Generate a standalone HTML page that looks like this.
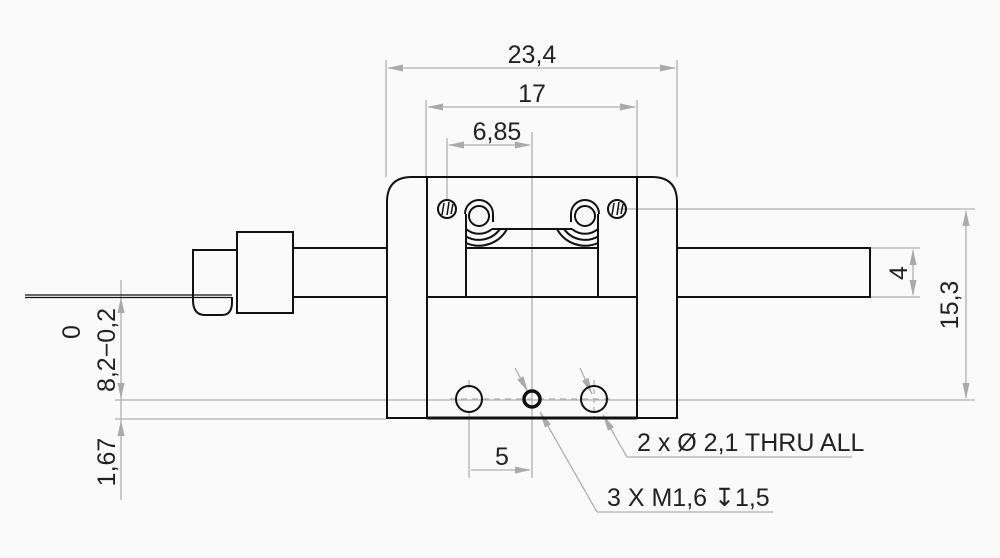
<!DOCTYPE html>
<html><head><meta charset="utf-8"><style>
html,body{margin:0;padding:0;background:#fafafa;}
svg{display:block}
text{font-family:"Liberation Sans",sans-serif;fill:#222;}
</style></head><body>
<svg width="1000" height="558" viewBox="0 0 1000 558" xmlns="http://www.w3.org/2000/svg">
<rect width="1000" height="558" fill="#fafafa"/>
<!-- gray dimension lines -->
<g stroke="#b0b0b0" stroke-width="1.3" fill="none">
<line x1="386" y1="60" x2="386" y2="177"/><line x1="677" y1="60" x2="677" y2="177"/>
<line x1="426" y1="100" x2="426" y2="177"/><line x1="637" y1="100" x2="637" y2="177"/>
<line x1="447" y1="138" x2="447" y2="200"/><line x1="532" y1="132" x2="532" y2="478"/>
<line x1="388" y1="68" x2="675" y2="68"/>
<line x1="428" y1="107" x2="635" y2="107"/>
<line x1="449" y1="145" x2="530" y2="145"/>
<line x1="617" y1="209" x2="975" y2="209"/>
<line x1="115" y1="400" x2="975" y2="400"/>
<line x1="115" y1="419" x2="386" y2="419"/>
<line x1="870" y1="248" x2="920" y2="248"/><line x1="870" y1="297" x2="920" y2="297"/>
<line x1="913" y1="250" x2="913" y2="295"/>
<line x1="966" y1="211" x2="966" y2="398"/>
<line x1="121" y1="280" x2="121" y2="500"/>
<line x1="469" y1="412" x2="469" y2="478"/>
<line x1="471" y1="470" x2="530" y2="470"/>
<line x1="594" y1="380" x2="594" y2="418" stroke-dasharray="5,4"/>
<line x1="469" y1="380" x2="469" y2="388"/>
<line x1="450" y1="399" x2="610" y2="399" stroke-dasharray="6,5"/>
<line x1="580" y1="368" x2="592" y2="394"/>
<line x1="627" y1="457" x2="603" y2="415"/>
<line x1="627" y1="457" x2="852" y2="457"/>
<line x1="515" y1="368" x2="528" y2="392"/>
<line x1="597" y1="512" x2="540" y2="412"/>
<line x1="597" y1="512" x2="773" y2="512"/>
</g>
<g fill="#aaa">
<polygon points="387,68 403,64.5 403,71.5"/><polygon points="676,68 660,64.5 660,71.5"/>
<polygon points="427,107 443,103.5 443,110.5"/><polygon points="636,107 620,103.5 620,110.5"/>
<polygon points="448,145 464,141.5 464,148.5"/><polygon points="531,145 515,141.5 515,148.5"/>
<polygon points="531,470 515,466.5 515,473.5"/>
<polygon points="913,249 909.5,265 916.5,265"/><polygon points="913,296 909.5,280 916.5,280"/>
<polygon points="966,210 962.5,226 969.5,226"/><polygon points="966,399 962.5,383 969.5,383"/>
<polygon points="121,297 117.5,313 124.5,313"/><polygon points="121,399 117.5,383 124.5,383"/>
<polygon points="121,420 117.5,436 124.5,436"/>
<polygon points="592,394 588.5,377.9 582.1,380.9"/>
<polygon points="603,415 614,427.2 608,430.7"/>
<polygon points="528,392 523.5,376.2 517.3,379.6"/>
<polygon points="540,412 551,424.2 544.9,427.6"/>
</g>
<!-- black geometry -->
<g stroke="#111" stroke-width="2" fill="none">
<path d="M387,418 L387,202 Q387,177 412,177 L652,177 Q677,177 677,202 L677,418 Z"/>
<line x1="427" y1="177" x2="427" y2="418"/><line x1="637" y1="177" x2="637" y2="418"/>
<line x1="427" y1="418" x2="637" y2="418" stroke-width="3"/>
<line x1="427" y1="297" x2="637" y2="297"/>
<line x1="466" y1="214" x2="466" y2="297"/><line x1="598" y1="214" x2="598" y2="297"/>
<line x1="466" y1="248" x2="598" y2="248"/>
<line x1="492" y1="229" x2="572" y2="229"/>
<path d="M465,214 A14,14 0 0 1 493,214 L493,222"/>
<circle cx="479" cy="216" r="10"/>
<path d="M492,229 A20,20 0 0 1 466,229 M500,229 A26,26 0 0 1 466,236.5 M507,229 A32,32 0 0 1 466,243"/>
<path d="M571,222 L571,214 A14,14 0 0 1 599,214"/>
<circle cx="585" cy="216" r="10"/>
<path d="M598,229 A20,20 0 0 1 572,229 M598,236.5 A26,26 0 0 1 564,229 M598,243 A32,32 0 0 1 557,229"/>
<circle cx="447" cy="209" r="9"/><path d="M444,203 L442,215 M449,202 L447,215 M453,204 L451,214" stroke-width="1.5"/>
<circle cx="617" cy="209" r="9"/><path d="M614,203 L612,215 M619,202 L617,215 M623,204 L621,214" stroke-width="1.5"/>
<circle cx="469" cy="399" r="13"/>
<circle cx="594" cy="399" r="13"/>
<circle cx="532" cy="399" r="8" stroke-width="3.5"/>
<line x1="293" y1="248" x2="387" y2="248"/><line x1="293" y1="297" x2="387" y2="297"/>
<path d="M677,248 L870,248 L870,297 L677,297"/>
<path d="M237,297 L237,232 L293,232 L293,313 L237,313 L237,297"/>
<path d="M237,250 L193,250 L193,300 Q193,315 205,315 L222,315 Q232,315 232,302 L232,297"/>
<line x1="25" y1="295" x2="232" y2="295" stroke-width="1.3"/>
<line x1="25" y1="297.5" x2="232" y2="297.5" stroke-width="1.3"/>
</g>
<g font-size="25">
<text x="532" y="63" text-anchor="middle">23,4</text>
<text x="532" y="102" text-anchor="middle">17</text>
<text x="497" y="140" text-anchor="middle">6,85</text>
<text x="502" y="465" text-anchor="middle">5</text>
<text x="637" y="451">2 x Ø 2,1 THRU ALL</text>
<text x="607" y="506">3 X M1,6 &#x21A7;1,5</text>
<text transform="translate(913,273) rotate(-90)" text-anchor="middle" x="0" y="-6">4</text>
<text transform="translate(966,305) rotate(-90)" text-anchor="middle" x="0" y="-8">15,3</text>
<text transform="translate(121,350) rotate(-90)" text-anchor="middle" x="0" y="-6">8,2−0,2</text>
<text transform="translate(80,332) rotate(-90)" text-anchor="middle" x="0" y="0">0</text>
<text transform="translate(121,462) rotate(-90)" text-anchor="middle" x="0" y="-6">1,67</text>
</g>
</svg>
</body></html>
